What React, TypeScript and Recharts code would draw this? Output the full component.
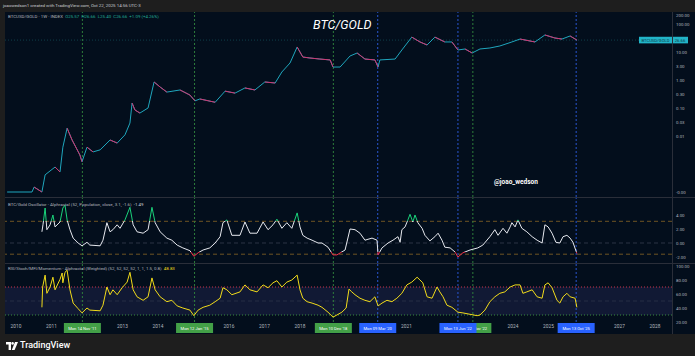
import { LineChart, Line, XAxis, YAxis, ReferenceLine, ReferenceArea } from 'recharts'

// time axis, decimal years
const X_MIN = 2009.69
const X_MAX = 2028.48

const priceDates = [2009.75, 2010.45, 2010.51, 2010.73, 2010.82, 2011.1, 2011.24, 2011.32, 2011.44, 2011.58, 2011.8, 2011.86, 2012.0, 2012.17, 2012.37, 2012.65, 2012.85, 2013.07, 2013.21, 2013.27, 2013.35, 2013.49, 2013.72, 2013.89, 2014.06, 2014.25, 2014.62, 2014.9, 2015.04, 2015.18, 2015.61, 2015.89, 2016.17, 2016.45, 2016.73, 2017.01, 2017.3, 2017.49, 2017.72, 2017.92, 2018.08, 2018.28, 2018.56, 2018.85, 2018.93, 2019.13, 2019.41, 2019.61, 2019.83, 2020.11, 2020.2, 2020.25, 2020.68, 2020.87, 2021.15, 2021.38, 2021.58, 2021.8, 2022.08, 2022.28, 2022.45, 2022.65, 2022.85, 2023.07, 2023.35, 2023.63, 2023.97, 2024.2, 2024.62, 2024.9, 2025.18, 2025.38, 2025.61, 2025.8]
const priceValues = [0.0001, 0.0001, 0.00015, 0.0001, 0.00041, 0.00078, 0.00052, 0.004, 0.019, 0.0072, 0.0021, 0.0012, 0.004, 0.0027, 0.0032, 0.0072, 0.0056, 0.011, 0.029, 0.15, 0.085, 0.066, 0.1, 0.85, 0.56, 0.37, 0.44, 0.29, 0.18, 0.21, 0.16, 0.4, 0.34, 0.52, 0.44, 0.85, 0.78, 1.93, 4.05, 15.1, 6.6, 6.1, 5.6, 5.2, 2.9, 2.9, 7.2, 9.2, 5.6, 5.2, 2.9, 5.2, 5.6, 11.8, 34, 22.8, 17.8, 34, 22.8, 22.8, 11.8, 12.8, 9.2, 12.8, 13.9, 16.4, 22.8, 29, 22.8, 40.5, 31.6, 29, 37.3, 26.66]

const oscDates = [2010.73, 2010.76, 2010.82, 2010.87, 2010.96, 2011.04, 2011.1, 2011.24, 2011.32, 2011.38, 2011.44, 2011.52, 2011.61, 2011.75, 2011.86, 2012.0, 2012.08, 2012.37, 2012.45, 2012.56, 2012.65, 2012.73, 2012.85, 2012.93, 2013.07, 2013.21, 2013.3, 2013.41, 2013.58, 2013.72, 2013.83, 2013.92, 2014.06, 2014.25, 2014.39, 2014.54, 2014.7, 2014.9, 2015.01, 2015.13, 2015.27, 2015.46, 2015.61, 2015.75, 2015.83, 2015.94, 2016.08, 2016.31, 2016.45, 2016.59, 2016.79, 2016.96, 2017.1, 2017.24, 2017.35, 2017.49, 2017.63, 2017.77, 2017.92, 2018.0, 2018.08, 2018.2, 2018.34, 2018.51, 2018.62, 2018.79, 2018.93, 2019.04, 2019.27, 2019.41, 2019.55, 2019.69, 2019.83, 2020.03, 2020.17, 2020.2, 2020.31, 2020.48, 2020.62, 2020.76, 2020.82, 2020.87, 2020.96, 2021.04, 2021.1, 2021.18, 2021.24, 2021.32, 2021.44, 2021.52, 2021.66, 2021.8, 2021.89, 2022.0, 2022.08, 2022.23, 2022.37, 2022.45, 2022.59, 2022.79, 2023.01, 2023.15, 2023.35, 2023.49, 2023.58, 2023.72, 2023.83, 2023.92, 2023.97, 2024.06, 2024.14, 2024.25, 2024.39, 2024.54, 2024.68, 2024.82, 2024.9, 2024.99, 2025.1, 2025.21, 2025.32, 2025.41, 2025.52, 2025.61, 2025.69, 2025.8]
const oscValues = [1.6, 2.6, 5.0, 1.9, 2.6, 4.0, 2.3, 3.0, 5.0, 5.4, 3.3, 1.9, 0.7, 0.0, -0.4, 0.1, -0.3, -0.4, 0.4, 2.9, 1.6, 1.9, 2.6, 2.1, 3.3, 5.1, 2.6, 1.6, 1.4, 1.9, 5.1, 2.9, 1.6, 0.7, 0.4, -0.3, -0.7, -1.1, -1.9, -1.4, -1.0, -0.7, 0.0, 0.9, 2.9, 3.3, 1.1, 1.1, 3.0, 1.4, 1.4, 3.0, 1.9, 2.6, 3.4, 2.1, 2.9, 2.1, 4.3, 2.3, 1.1, 0.7, 0.4, 0.0, 0.0, -0.6, -1.7, -1.7, -1.0, 2.0, 1.9, 1.4, 0.4, 0.7, 0.4, -1.7, -0.7, 0.0, 0.4, 0.9, 0.1, 1.9, 2.3, 3.3, 4.1, 3.0, 4.0, 2.9, 2.1, 1.1, 0.3, 0.9, 1.4, 0.4, -0.6, -0.7, -1.3, -2.0, -1.4, -1.0, -0.7, -0.3, 0.9, 1.9, 1.1, 2.1, 1.4, 2.3, 2.9, 2.3, 3.3, 2.1, 1.6, 0.9, 0.4, 0.0, 2.6, 2.3, 1.4, 0.1, 0.0, 0.9, 1.1, 0.7, 0.1, -1.49]

const rsiDates = [2010.73, 2010.75, 2010.82, 2010.87, 2010.96, 2011.04, 2011.1, 2011.24, 2011.3, 2011.32, 2011.38, 2011.44, 2011.52, 2011.61, 2011.75, 2011.86, 2012.0, 2012.08, 2012.37, 2012.45, 2012.56, 2012.65, 2012.73, 2012.85, 2012.99, 2013.13, 2013.21, 2013.3, 2013.41, 2013.58, 2013.72, 2013.83, 2013.92, 2014.06, 2014.25, 2014.39, 2014.54, 2014.7, 2014.9, 2015.01, 2015.13, 2015.27, 2015.46, 2015.61, 2015.75, 2015.83, 2015.94, 2016.08, 2016.31, 2016.45, 2016.59, 2016.79, 2016.96, 2017.1, 2017.24, 2017.35, 2017.49, 2017.63, 2017.77, 2017.92, 2018.0, 2018.08, 2018.2, 2018.34, 2018.51, 2018.62, 2018.79, 2018.93, 2019.04, 2019.18, 2019.3, 2019.38, 2019.46, 2019.55, 2019.69, 2019.83, 2019.97, 2020.11, 2020.2, 2020.31, 2020.45, 2020.59, 2020.73, 2020.87, 2021.01, 2021.15, 2021.3, 2021.38, 2021.46, 2021.58, 2021.72, 2021.86, 2021.94, 2022.03, 2022.14, 2022.28, 2022.45, 2022.59, 2022.79, 2022.99, 2023.07, 2023.21, 2023.35, 2023.49, 2023.63, 2023.77, 2023.92, 2024.06, 2024.2, 2024.28, 2024.39, 2024.54, 2024.68, 2024.82, 2024.9, 2024.99, 2025.1, 2025.24, 2025.32, 2025.41, 2025.52, 2025.61, 2025.75, 2025.8]
const rsiValues = [41, 70, 87, 61, 70, 84, 66, 81, 90, 76, 91, 94, 66, 47, 39, 33, 40, 37, 36, 44, 70, 59, 66, 59, 69, 77, 91, 66, 56, 51, 56, 83, 66, 56, 49, 51, 43, 40, 37, 29, 37, 41, 44, 49, 54, 69, 66, 59, 63, 73, 66, 63, 73, 69, 76, 79, 70, 77, 80, 87, 66, 54, 49, 47, 44, 41, 34, 27, 30, 34, 40, 67, 63, 59, 54, 51, 49, 56, 43, 47, 51, 49, 54, 61, 73, 77, 84, 80, 76, 56, 54, 70, 63, 56, 44, 41, 34, 33, 31, 29, 30, 37, 49, 56, 61, 63, 70, 73, 73, 61, 63, 66, 56, 54, 73, 76, 69, 51, 47, 56, 61, 56, 54, 41]

const yearTicks = [2010, 2011, 2013, 2014, 2016, 2017, 2018, 2021, 2024, 2025, 2027, 2028]
const priceTicks = [0.0001, 0.01, 0.03, 0.1, 0.3, 1, 3, 10, 100, 200]
const oscTicks = [-2, 0, 2, 4]
const rsiTicks = [20, 40, 60, 80, 100]

const greenDates = [2011.87, 2015.03, 2018.94, 2022.87]
const greenLabels = ["Mon 14 Nov '11", "Mon 12 Jan '15", "Mon 10 Dec '18", "Mon 14 Nov '22"]
const blueDates = [2020.19, 2022.45, 2025.78]
const blueLabels = ["Mon 09 Mar '20", "Mon 13 Jun '22", "Mon 13 Oct '25"]

const OSC_HIGH = 3.1
const OSC_LOW = -1.6
const OSC_RED_FROM = -1.35

const FONT = 'Roboto, "Liberation Sans", Arial, sans-serif'
const BG = '#030e1c'
const FRAME = '#1e1e1e'
const TXT = '#b2b5be'
const LINE = '#2a2e39'
const GREEN_MARK = '#2e7d3c'
const BLUE_MARK = '#2a56d0'

const CHART_W = 690
const AXIS_W = 23
const PRICE_H = 185
const OSC_H = 66
const RSI_H = 71
const XAXIS_H = 12

const PRICE_DOMAIN: [number, number] = [0.0000663, 268]
const OSC_DOMAIN: [number, number] = [-2.857, 6.571]
const RSI_DOMAIN: [number, number] = [20, 104.3]

const priceData = priceDates.map((t, i) => ({ t, v: priceValues[i] }))
// falling stretches are drawn again in pink, like red candles
const downData = priceDates.flatMap((t, i) =>
  i > 0 && priceValues[i] < priceValues[i - 1]
    ? [{ t: priceDates[i - 1], v: priceValues[i - 1] }, { t, v: priceValues[i] }, { t, v: null }]
    : []
)
const oscData = oscDates.map((t, i) => ({ t, v: oscValues[i] }))
const rsiData = rsiDates.map((t, i) => ({ t, v: rsiValues[i] }))

const fmtPrice = (v: number) => (v < 0.001 ? '-0.00' : v.toFixed(2))
const fmt2 = (v: number) => v.toFixed(2)

const axisTick = { fill: TXT, fontSize: 4.4, fontFamily: FONT }
const margin0 = { top: 0, right: 0, bottom: 0, left: 0 }

function PriceTag(props: any) {
  const vb = props.viewBox
  if (!vb) return null
  const right = vb.x + vb.width
  const y = vb.y
  return (
    <g fontFamily={FONT}>
      <rect x={right - 33} y={y - 3.3} width={33} height={6.6} fill="#22b4c8" />
      <text x={right - 16.5} y={y + 1.5} textAnchor="middle" fontSize={4.2} fill="#0b3943">BTCUSD/GOLD</text>
      <rect x={right} y={y - 3.3} width={16} height={6.6} fill="#22b4c8" />
      <text x={right + 8} y={y + 1.5} textAnchor="middle" fontSize={4.2} fill="#0b3943">
        {priceValues[priceValues.length - 1].toFixed(2)}
      </text>
    </g>
  )
}

function DateTag(props: any) {
  const vb = props.viewBox
  if (!vb) return null
  const x = vb.x
  const y = vb.y + vb.height + 1
  return (
    <g fontFamily={FONT}>
      <rect x={x - 18.5} y={y} width={37} height={10} fill={props.color} />
      <text x={x} y={y + 6.5} textAnchor="middle" fontSize={4.1} fill="#ffffff">{props.text}</text>
    </g>
  )
}

const legend = (top: number, children: any) => (
  <div
    style={{
      position: 'absolute', left: 8, top, fontSize: 4.4, lineHeight: '6px', color: TXT,
      fontFamily: FONT, whiteSpace: 'pre',
    }}
  >
    {children}
  </div>
)

export default function App() {
  const oscSpan = OSC_DOMAIN[1] - OSC_DOMAIN[0]
  const gHigh = (OSC_DOMAIN[1] - OSC_HIGH) / oscSpan
  const gLow = (OSC_DOMAIN[1] - OSC_RED_FROM) / oscSpan

  const markerLines = (withTags: boolean) => [
    ...greenDates.map((d, i) => (
      <ReferenceLine
        key={'g' + i}
        x={d}
        stroke={GREEN_MARK}
        strokeDasharray="2 2"
        label={withTags ? <DateTag text={greenLabels[i]} color="#43a047" /> : undefined}
      />
    )),
    ...blueDates.map((d, i) => (
      <ReferenceLine
        key={'b' + i}
        x={d}
        stroke={BLUE_MARK}
        strokeDasharray="2 2"
        label={withTags ? <DateTag text={blueLabels[i]} color="#2962ff" /> : undefined}
      />
    )),
  ]

  return (
    <div style={{ position: 'fixed', left: 0, top: 0, width: 695, height: 356, background: FRAME, overflow: 'hidden', fontFamily: FONT }}>
      <div style={{ position: 'absolute', left: 5, top: 12, width: 690, height: 322, background: BG }} />

      <div style={{ position: 'absolute', left: 5, top: 12 }}>
        <LineChart width={CHART_W} height={PRICE_H} data={priceData} margin={margin0}>
          <XAxis type="number" dataKey="t" domain={[X_MIN, X_MAX]} allowDataOverflow hide />
          <YAxis
            orientation="right"
            width={AXIS_W}
            scale="log"
            domain={PRICE_DOMAIN}
            allowDataOverflow
            ticks={priceTicks}
            interval={0}
            tickFormatter={fmtPrice}
            axisLine={false}
            tickLine={false}
            tickSize={0}
            tickMargin={4}
            tick={axisTick}
          />
          {markerLines(false)}
          <ReferenceLine y={26.66} stroke="#0f3f4a" strokeDasharray="1 2" label={<PriceTag />} />
          <Line dataKey="v" stroke="#1fa6bd" strokeWidth={1} dot={false} isAnimationActive={false} />
          <Line data={downData} dataKey="v" stroke="#d4326e" strokeWidth={1} dot={false} connectNulls={false} isAnimationActive={false} />
        </LineChart>
      </div>

      <div style={{ position: 'absolute', left: 5, top: 197 }}>
        <LineChart width={CHART_W} height={OSC_H} data={oscData} margin={margin0}>
          <defs>
            <linearGradient id="oscStroke" gradientUnits="userSpaceOnUse" x1={0} y1={0} x2={0} y2={OSC_H}>
              <stop offset={0} stopColor="#19d27a" />
              <stop offset={gHigh} stopColor="#19d27a" />
              <stop offset={gHigh} stopColor="#e6e8ee" />
              <stop offset={gLow} stopColor="#e6e8ee" />
              <stop offset={gLow} stopColor="#f0304a" />
              <stop offset={1} stopColor="#f0304a" />
            </linearGradient>
          </defs>
          <XAxis type="number" dataKey="t" domain={[X_MIN, X_MAX]} allowDataOverflow hide />
          <YAxis
            orientation="right"
            width={AXIS_W}
            domain={OSC_DOMAIN}
            allowDataOverflow
            ticks={oscTicks}
            interval={0}
            tickFormatter={fmt2}
            axisLine={false}
            tickLine={false}
            tickSize={0}
            tickMargin={4}
            tick={axisTick}
          />
          <ReferenceLine y={OSC_HIGH} stroke="#6e5424" strokeDasharray="4 3" />
          <ReferenceLine y={0} stroke="#2c3444" strokeDasharray="4 3" />
          <ReferenceLine y={OSC_LOW} stroke="#6e5424" strokeDasharray="4 3" />
          {markerLines(false)}
          <Line dataKey="v" stroke="url(#oscStroke)" strokeWidth={1} dot={false} isAnimationActive={false} />
        </LineChart>
      </div>

      <div style={{ position: 'absolute', left: 5, top: 263 }}>
        <LineChart width={CHART_W} height={RSI_H} data={rsiData} margin={margin0}>
          <XAxis
            type="number"
            dataKey="t"
            domain={[X_MIN, X_MAX]}
            allowDataOverflow
            ticks={yearTicks}
            interval={0}
            height={XAXIS_H}
            axisLine={false}
            tickLine={false}
            tickSize={0}
            tickMargin={3}
            tick={{ fill: TXT, fontSize: 4.8, fontFamily: FONT }}
          />
          <YAxis
            orientation="right"
            width={AXIS_W}
            domain={RSI_DOMAIN}
            allowDataOverflow
            ticks={rsiTicks}
            interval={0}
            tickFormatter={fmt2}
            axisLine={false}
            tickLine={false}
            tickSize={0}
            tickMargin={4}
            tick={axisTick}
          />
          <ReferenceArea y1={30} y2={70} fill="#111934" fillOpacity={1} stroke="none" />
          <ReferenceLine y={70} stroke="#c9354a" strokeDasharray="1 2" />
          <ReferenceLine y={50} stroke="#262e44" strokeDasharray="4 3" />
          <ReferenceLine y={30} stroke="#3b8a3f" strokeDasharray="1 2" />
          {markerLines(true)}
          <Line dataKey="v" stroke="#f2dc1a" strokeWidth={1} dot={false} isAnimationActive={false} />
        </LineChart>
      </div>

      {/* pane separators */}
      <div style={{ position: 'absolute', left: 5, top: 197, width: 690, height: 1, background: LINE }} />
      <div style={{ position: 'absolute', left: 5, top: 263, width: 690, height: 1, background: LINE }} />
      <div style={{ position: 'absolute', left: 672, top: 12, width: 1, height: 322, background: LINE }} />

      {/* header bar */}
      <div style={{ position: 'absolute', left: 0, top: 0, width: 695, height: 12, background: FRAME }} />
      <div style={{ position: 'absolute', left: 3, top: 3, fontSize: 4.4, lineHeight: '6px', color: '#c9cbd1', whiteSpace: 'pre' }}>
        joaowedson1 created with TradingView.com, Oct 22, 2025 14:56 UTC-3
      </div>

      {legend(14, <>
        <span>BTCUSD/GOLD · 1W · INDEX  </span>
        <span style={{ color: '#22ab94' }}>O25.57  H26.66  L25.40  C26.66  +1.09 (+4.26%)</span>
      </>)}
      {legend(202, <>
        <span>BTC/Gold Oscillator - Alphractal (52, Population, close, 3.1, -1.6)  </span>
        <span style={{ color: '#d1d4dc' }}>-1.49</span>
      </>)}
      {legend(266, <>
        <span>RSI/Stoch/MFI/Momentum - Alphractal (Weighted) (52, 52, 52, 52, 1, 1, 1.5, 0.8)  </span>
        <span style={{ color: '#f2dc1a' }}>48.83</span>
      </>)}

      <div style={{ position: 'absolute', left: 313, top: 18, fontSize: 12.5, fontStyle: 'italic', color: '#ffffff', lineHeight: '13px' }}>
        BTC/GOLD
      </div>
      <div style={{ position: 'absolute', left: 494, top: 178, fontSize: 6.5, fontWeight: 700, color: '#ffffff', lineHeight: '8px' }}>
        @joao_wedson
      </div>

      {/* footer logo */}
      <svg style={{ position: 'absolute', left: 6, top: 342 }} width={12} height={8} viewBox="0 0 12 8">
        <path d="M0 0h5v8H2.6V2.4H0z" fill="#ffffff" />
        <circle cx={6.6} cy={1.4} r={1.3} fill="#ffffff" />
        <path d="M9 0h3l-3.4 8H5.8z" fill="#ffffff" />
      </svg>
      <div style={{ position: 'absolute', left: 20, top: 340, fontSize: 9, fontWeight: 500, color: '#ffffff', lineHeight: '11px' }}>
        TradingView
      </div>
    </div>
  )
}
